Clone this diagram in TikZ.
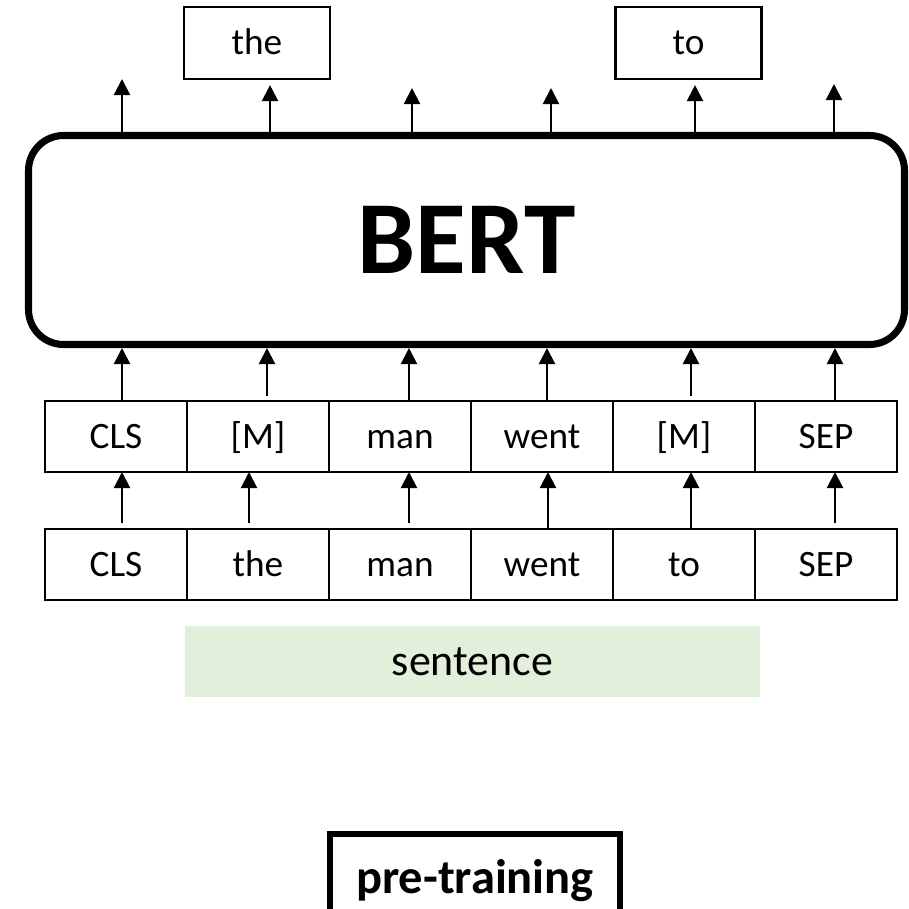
\documentclass[tikz,border=0pt]{standalone}
\usepackage{fontspec}
\setmainfont{Carlito}
\usepackage{tikz}
\usetikzlibrary{arrows.meta, positioning}
\definecolor{sentgreen}{HTML}{E2EFDA}

\begin{document}
\begin{tikzpicture}[
    tok/.style={draw, line width=0.6pt, outer sep=0pt, inner sep=0pt, minimum width=1.42cm, minimum height=0.71cm,
                text height=0.3cm, text depth=0.07cm, font=\fontsize{10.6}{12}\selectfont},
    outbox/.style={draw, line width=0.6pt, inner sep=0pt, minimum width=1.46cm, minimum height=0.72cm,
                   text height=0.3cm, text depth=0.07cm, font=\fontsize{10.6}{12}\selectfont},
    up/.style={-{Triangle[length=0.16cm, width=0.16cm]}, line width=0.6pt},
]
    \useasboundingbox (0,0) rectangle (9.09,-9.09);
    \clip (0,0) rectangle (9.09,-9.09);

    % predicted words
    \node[outbox] (the) at (2.57,-0.43) {the};
    \node[outbox] (to) at (6.885,-0.43) {to};

    % encoder
    \node[draw, line width=2pt, rounded corners=0.35cm, minimum width=8.76cm, minimum height=2.09cm,
          font=\bfseries\fontsize{29.5}{35}\selectfont] (bert) at (4.665,-2.40) {BERT};

    % masked tokens
    \node[tok] (m1) at (1.16,-4.365) {CLS};
    \node[tok, right=0pt of m1] (m2) {[M]};
    \node[tok, right=0pt of m2] (m3) {man};
    \node[tok, right=0pt of m3] (m4) {went};
    \node[tok, right=0pt of m4] (m5) {[M]};
    \node[tok, right=0pt of m5] (m6) {SEP};

    % input tokens
    \node[tok] (b1) at (1.16,-5.645) {CLS};
    \node[tok, right=0pt of b1] (b2) {the};
    \node[tok, right=0pt of b2] (b3) {man};
    \node[tok, right=0pt of b3] (b4) {went};
    \node[tok, right=0pt of b4] (b5) {to};
    \node[tok, right=0pt of b5] (b6) {SEP};

    \node[fill=sentgreen, minimum width=5.75cm, minimum height=0.71cm,
          font=\fontsize{12.5}{15}\selectfont] (sent) at (4.725,-6.615) {sentence};

    \node[draw, line width=0.06cm, inner sep=0pt, minimum width=2.90cm, text height=0.59cm, text depth=0.6cm,
          anchor=base, font=\bfseries\fontsize{13.8}{16}\selectfont] (pre) at (4.75,-8.93) {pre-training};

    % arrows
    \foreach \i/\dx/\gap in {1/6/0.06cm,2/-9/0.06cm,3/9/0.06cm,4/6/0cm,5/7/0cm,6/9/0.06cm}
        \draw[up, shorten <=\gap] ([xshift=\dx*0.01cm]b\i.north) -- ([xshift=\dx*0.01cm]m\i.south);
    \foreach \i/\dx/\gap in {1/6/0cm,2/9/0.05cm,3/9/0cm,4/5/0cm,5/7/0.05cm,6/9/0cm}
        \draw[up, shorten <=\gap] ([xshift=\dx*0.01cm]m\i.north) -- ([xshift=\dx*0.01cm]m\i.north |- bert.south);
    \foreach \i/\x/\y in {1/1.22/0.79,3/4.12/0.88,4/5.51/0.88,6/8.34/0.84} {
        \coordinate (o\i) at (\x,-\y);
        \draw[up] (bert.north -| o\i) -- (o\i);
    }
    \coordinate (o2) at ([xshift=0.13cm]the.south);
    \coordinate (o5) at ([xshift=0.065cm]to.south);
    \draw[up, shorten >=0.05cm] (bert.north -| o2) -- (o2);
    \draw[up, shorten >=0.05cm] (bert.north -| o5) -- (o5);
\end{tikzpicture}
\end{document}
